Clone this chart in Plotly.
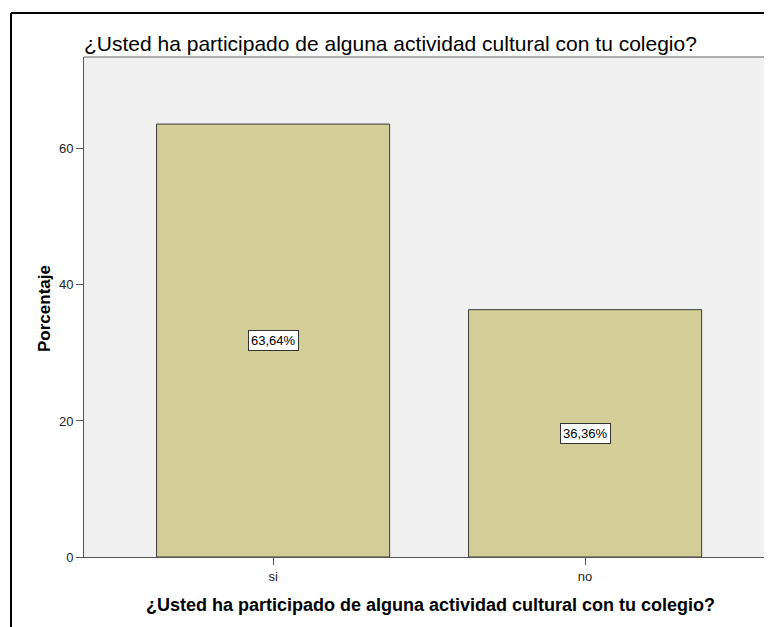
import plotly.graph_objects as go

# data
categorias = ['si', 'no']
porcentajes = [63.64, 36.36]
etiquetas = ['63,64%', '36,36%']
ticks_y = [0, 20, 40, 60]

titulo = '¿Usted ha participado de alguna actividad cultural con tu colegio?'

# the page body has an 8px margin, so the figure starts at (8, 8)
OFF = 8
W, H = 772 - OFF, 627 - OFF
# plot area in page pixels
L, R, T, B = 84, 772, 57, 557
pw, ph = R - L, B - T


def px_x(x):
    return (x - L) / pw


def px_y(y):
    return (B - y) / ph


font = 'Arial, Liberation Sans, sans-serif'

fig = go.Figure()
fig.add_trace(go.Bar(
    x=categorias, y=porcentajes, width=0.747,
    marker=dict(color='#D3CE97', line=dict(color='#3c3c3c', width=1)),
    hoverinfo='skip',
))

# value labels in white boxes at mid height of each bar
for c, v, t in zip(categorias, porcentajes, etiquetas):
    fig.add_annotation(x=c, y=v / 2, text=t, showarrow=False,
                       font=dict(family=font, size=13, color='black'),
                       bgcolor='white', bordercolor='#333333', borderwidth=1, borderpad=2)

# axis titles
fig.add_annotation(xref='paper', yref='paper', x=0.504, y=px_y(605), text='<b>' + titulo + '</b>',
                   showarrow=False, font=dict(family=font, size=18, color='black'),
                   xanchor='center', yanchor='middle')
fig.add_annotation(xref='paper', yref='paper', x=px_x(44), y=px_y(309), text='<b>Porcentaje</b>',
                   showarrow=False, textangle=-90, font=dict(family=font, size=17, color='black'),
                   xanchor='center', yanchor='middle')

# outer black frame (top and left) and plot top border
fig.add_shape(type='line', xref='paper', yref='paper', x0=px_x(11), x1=px_x(800),
              y0=px_y(13), y1=px_y(13), line=dict(color='black', width=2))
fig.add_shape(type='line', xref='paper', yref='paper', x0=px_x(11), x1=px_x(11),
              y0=px_y(13), y1=px_y(640), line=dict(color='black', width=2))
fig.add_shape(type='line', xref='paper', yref='paper', x0=0, x1=1, y0=1, y1=1,
              line=dict(color='#666666', width=1))

fig.update_layout(
    width=W, height=H,
    margin=dict(l=L - OFF, r=0, t=T - OFF, b=H + OFF - B),
    paper_bgcolor='white', plot_bgcolor='#F0F0F0',
    showlegend=False,
    title=dict(text=titulo, x=0, xanchor='left', xref='paper',
               y=(H + OFF - 44) / H, yanchor='middle', yref='container',
               font=dict(family=font, size=21, color='black')),
    font=dict(family=font),
)
fig.update_xaxes(range=[-0.606, 1.599], showgrid=False, showline=True, linecolor='#555555',
                 ticks='outside', ticklen=7, tickcolor='#555555',
                 tickfont=dict(family=font, size=13, color='#222222'), zeroline=False)
fig.update_yaxes(range=[0, 73.5], tickvals=ticks_y, showgrid=False, showline=True,
                 linecolor='#555555', ticks='outside', ticklen=7, tickcolor='#555555',
                 tickfont=dict(family=font, size=13, color='#222222'), zeroline=False)

fig.write_html('out.html')
